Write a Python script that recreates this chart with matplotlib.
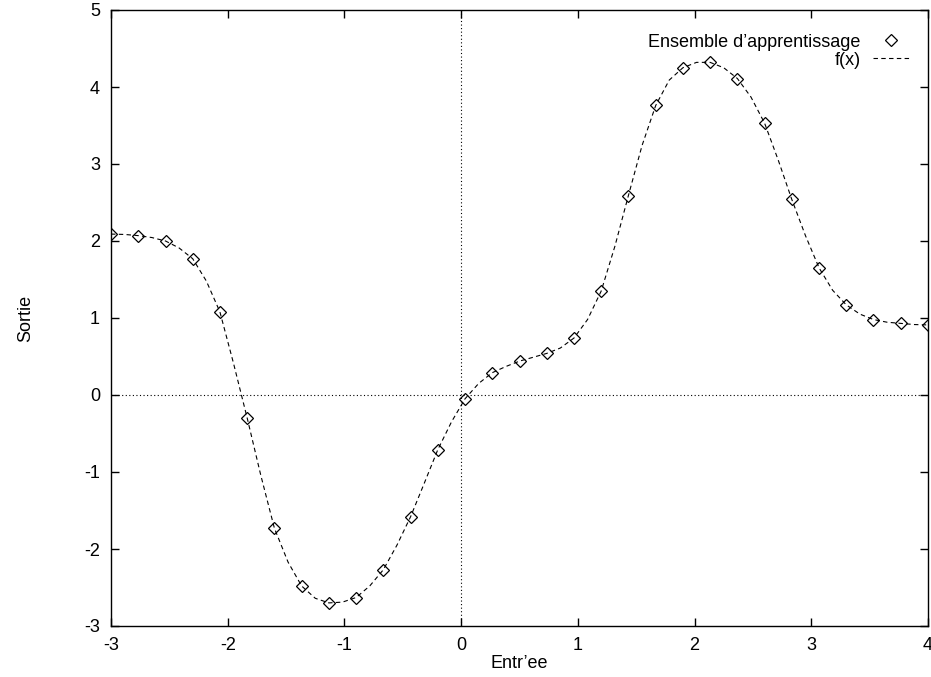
import matplotlib
matplotlib.use("Agg")
import matplotlib.pyplot as plt

plt.rcParams["font.family"] = ["Liberation Sans", "DejaVu Sans"]
plt.rcParams["axes.unicode_minus"] = False

# ---- Data ----------------------------------------------------------------
# training set (31 points)
train_x = [-3.000, -2.767, -2.533, -2.300, -2.067, -1.833, -1.600, -1.367,
           -1.133, -0.900, -0.667, -0.433, -0.200, 0.033, 0.267, 0.500,
           0.733, 0.967, 1.200, 1.433, 1.667, 1.900, 2.133, 2.367,
           2.600, 2.833, 3.067, 3.300, 3.533, 3.767, 4.000]
train_y = [2.09, 2.07, 2.00, 1.77, 1.08, -0.30, -1.73, -2.48,
           -2.70, -2.63, -2.27, -1.58, -0.71, -0.05, 0.29, 0.44,
           0.54, 0.74, 1.35, 2.59, 3.76, 4.25, 4.32, 4.11,
           3.53, 2.54, 1.65, 1.17, 0.98, 0.93, 0.91]

# f(x) curve, read at the points and half-way between them
curve_x = [-3.000, -2.883, -2.767, -2.650, -2.533, -2.417, -2.300, -2.183,
           -2.067, -1.950, -1.833, -1.717, -1.600, -1.483, -1.367, -1.250,
           -1.133, -1.017, -0.900, -0.783, -0.667, -0.550, -0.433, -0.317,
           -0.200, -0.083, 0.033, 0.150, 0.267, 0.383, 0.500, 0.617,
           0.733, 0.850, 0.967, 1.083, 1.200, 1.317, 1.433, 1.550,
           1.667, 1.783, 1.900, 2.017, 2.133, 2.250, 2.367, 2.483,
           2.600, 2.717, 2.833, 2.950, 3.067, 3.183, 3.300, 3.417,
           3.533, 3.650, 3.767, 3.883, 4.000]
curve_y = [2.09, 2.085, 2.07, 2.045, 2.00, 1.91, 1.77, 1.48,
           1.08, 0.41, -0.30, -1.04, -1.73, -2.17, -2.48, -2.64,
           -2.70, -2.69, -2.63, -2.48, -2.27, -1.95, -1.58, -1.15,
           -0.71, -0.35, -0.05, 0.15, 0.29, 0.37, 0.44, 0.49,
           0.54, 0.61, 0.74, 0.98, 1.35, 1.93, 2.59, 3.24,
           3.76, 4.09, 4.25, 4.32, 4.32, 4.25, 4.11, 3.87,
           3.53, 3.05, 2.54, 2.07, 1.65, 1.36, 1.17, 1.05,
           0.98, 0.945, 0.93, 0.915, 0.91]

x_ticks = [-3, -2, -1, 0, 1, 2, 3, 4]
y_ticks = [-3, -2, -1, 0, 1, 2, 3, 4, 5]

# ---- Figure setup --------------------------------------------------------
fig = plt.figure(figsize=(9.31, 6.77), dpi=100)
ax = fig.add_axes([111 / 931, 1 - 626 / 677, 817 / 931, 616 / 677])

# zero axes (dotted)
ax.axhline(0, color="black", lw=0.8, ls=(0, (1, 2.2)), zorder=1)
ax.axvline(0, color="black", lw=0.8, ls=(0, (1, 2.2)), zorder=1)

ax.plot(train_x, train_y, ls="none", marker="D", markersize=6,
        markerfacecolor="none", markeredgecolor="black", markeredgewidth=0.9,
        label="Ensemble d\u2019apprentissage", zorder=3)
ax.plot(curve_x, curve_y, color="black", lw=0.8, ls=(0, (4, 3)),
        label="f(x)", zorder=2)

# ---- Cosmetics -----------------------------------------------------------
ax.set_xlim(-3, 4)
ax.set_ylim(-3, 5)
ax.set_xticks(x_ticks)
ax.set_yticks(y_ticks)
ax.tick_params(direction="in", length=6, width=1, top=True, right=True,
               labelsize=13, pad=8)
for spine in ax.spines.values():
    spine.set_linewidth(1.0)

ax.set_xlabel("Entr\u2019ee", fontsize=13, labelpad=1)
ax.set_ylabel("Sortie", fontsize=13, labelpad=36)

ax.legend(loc="upper right", bbox_to_anchor=(0.995, 0.985), frameon=False,
          markerfirst=False, fontsize=13, labelspacing=0.05,
          handletextpad=0.7, handlelength=2.0, borderpad=0.3)

plt.savefig("out.png", dpi=100)
print("Saved out.png")
